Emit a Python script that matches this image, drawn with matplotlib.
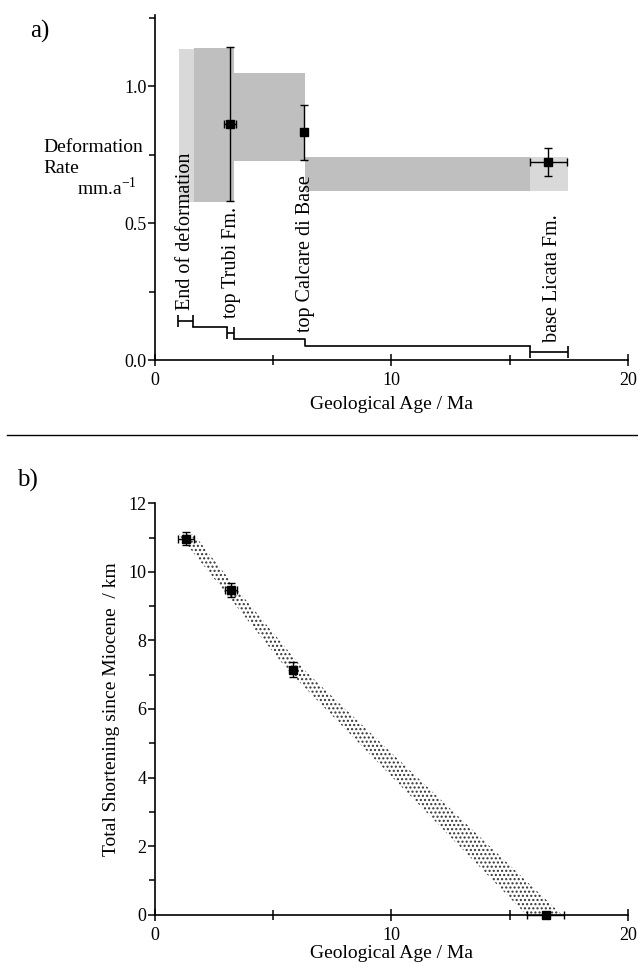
import numpy as np
import matplotlib
matplotlib.use('Agg')
import matplotlib.pyplot as plt
from matplotlib.ticker import MultipleLocator
from matplotlib.patches import Polygon
from matplotlib.lines import Line2D

plt.rcParams['font.family'] = ['Liberation Serif', 'DejaVu Serif']
plt.rcParams['mathtext.fontset'] = 'stix'
plt.rcParams['hatch.linewidth'] = 1.0

# ---- panel a) deformation rate ----
# shaded rate boxes (age range and rate range)
box_age0 = [1.04, 1.67, 3.36, 6.34, 15.87]
box_age1 = [1.67, 3.36, 6.34, 15.87, 17.47]
box_rate_lo = [0.578, 0.578, 0.727, 0.618, 0.618]
box_rate_hi = [1.135, 1.14, 1.047, 0.74, 0.74]
box_light = [True, False, False, False, True]

# rate estimates with error bars
rate_age = [3.19, 6.30, 16.62]
rate_val = [0.862, 0.832, 0.723]
rate_xerr = [0.25, 0.0, 0.78]
rate_yerr = [0.28, 0.10, 0.052]

# stratigraphic boundaries (age ranges drawn as horizontal bars)
bnd_names = ['End of deformation', 'top Trubi Fm.', 'top Calcare di Base', 'base Licata Fm.']
bnd_age_min = [0.99, 3.07, 6.34, 15.84]
bnd_age_max = [1.63, 3.36, 6.34, 17.47]
bnd_bar_y = [0.143, 0.099, 0.065, 0.030]
bnd_label_y = [0.182, 0.152, 0.103, 0.067]
bnd_label_x = [1.30, 3.24, 6.36, 16.79]
# connecting steps between boundaries
step_age = [1.63, 3.07, np.nan, 3.36, 6.34, 6.34, 15.84]
step_y = [0.119, 0.119, np.nan, 0.077, 0.077, 0.052, 0.052]

# ---- panel b) total shortening ----
short_age = [1.32, 3.21, 5.86, 16.52]
short_val = [10.97, 9.47, 7.15, 0.0]
short_xerr = [0.34, 0.25, 0.0, 0.78]
short_yerr = [0.2, 0.2, 0.22, 0.0]
# dotted uncertainty band
band_y = [11.1, 9.47, 7.15, 0.0]
band_left = [1.0, 2.9, 5.6, 15.7]
band_right = [1.65, 3.5, 6.3, 17.2]

light_grey = '#d9d9d9'
dark_grey = '#bfbfbf'


def style_axes(ax):
    for s in ['top', 'right']:
        ax.spines[s].set_visible(False)
    for s in ['left', 'bottom']:
        ax.spines[s].set_linewidth(1.2)
    ax.tick_params(axis='y', which='major', direction='out', length=5, width=1.1, labelsize=13, pad=1)
    ax.tick_params(axis='y', which='minor', direction='out', length=4, width=1.1)
    ax.tick_params(axis='x', which='major', direction='inout', length=9, width=1.1, labelsize=13, pad=4)
    ax.tick_params(axis='x', which='minor', direction='inout', length=7, width=1.1)
    ax.xaxis.set_major_locator(MultipleLocator(10))
    ax.xaxis.set_minor_locator(MultipleLocator(5))
    ax.set_xlim(0, 20)


fig = plt.figure(figsize=(6.38, 9.66), dpi=100)

# top panel
ax1 = fig.add_axes([0.2425, 0.6273, 0.742, 0.357])
style_axes(ax1)
for x0, x1, lo, hi, lt in zip(box_age0, box_age1, box_rate_lo, box_rate_hi, box_light):
    ax1.fill_between([x0, x1], lo, hi, color=light_grey if lt else dark_grey, linewidth=0, zorder=1)
ax1.errorbar(rate_age, rate_val, xerr=rate_xerr, yerr=rate_yerr, fmt='s', color='black',
             markersize=6, elinewidth=1.0, capsize=3, capthick=1.0, zorder=3)

# boundary bars (skip zero-width)
for lo, hi, y in zip(bnd_age_min, bnd_age_max, bnd_bar_y):
    if hi - lo > 0:
        ax1.errorbar([(lo + hi) / 2], [y], xerr=[(hi - lo) / 2], fmt='none', color='black',
                     elinewidth=1.2, capsize=4.5, capthick=1.2, zorder=3)
ax1.plot(step_age, step_y, color='black', linewidth=1.2, zorder=3)

for name, x, y in zip(bnd_names, bnd_label_x, bnd_label_y):
    ax1.text(x, y, name, rotation=90, ha='center', va='bottom', fontsize=14.5, zorder=4)

ax1.set_ylim(0, 1.26)
ax1.yaxis.set_major_locator(MultipleLocator(0.5))
ax1.yaxis.set_minor_locator(MultipleLocator(0.25))
ax1.yaxis.set_major_formatter(matplotlib.ticker.FormatStrFormatter('%.1f'))
ax1.set_xlabel('Geological Age / Ma', fontsize=14, labelpad=5)

fig.text(0.0674, 0.8468, 'Deformation', fontsize=14, va='center', ha='left')
fig.text(0.0674, 0.826, 'Rate', fontsize=14, va='center', ha='left')
fig.text(0.1207, 0.8054, 'mm.a$^{\\mathregular{-1}}$', fontsize=14, va='center', ha='left')
fig.text(0.047, 0.967, 'a)', fontsize=18, va='center', ha='left')

# separator line
fig.add_artist(Line2D([7 / 638, 1.0], [0.5497, 0.5497], color='black', linewidth=1.0,
                      transform=fig.transFigure))
fig.text(0.027, 0.503, 'b)', fontsize=18, va='center', ha='left')

# bottom panel
ax2 = fig.add_axes([0.2425, 0.0531, 0.742, 0.4259])
style_axes(ax2)
band = Polygon(list(zip(band_left, band_y)) + list(zip(band_right, band_y))[::-1], closed=True,
               facecolor='none', edgecolor='#333333', linewidth=0, hatch='....', zorder=1)
ax2.add_patch(band)
ax2.errorbar(short_age, short_val, xerr=short_xerr, yerr=short_yerr, fmt='s', color='black',
             markersize=6, elinewidth=1.0, capsize=3, capthick=1.0, zorder=3, clip_on=False)
ax2.set_ylim(0, 12)
ax2.yaxis.set_major_locator(MultipleLocator(2))
ax2.yaxis.set_minor_locator(MultipleLocator(1))
ax2.set_xlabel('Geological Age / Ma', fontsize=14, labelpad=1)
ax2.set_ylabel('Total Shortening since Miocene  / km', fontsize=14, labelpad=6)

plt.savefig('out.png', dpi=100)
